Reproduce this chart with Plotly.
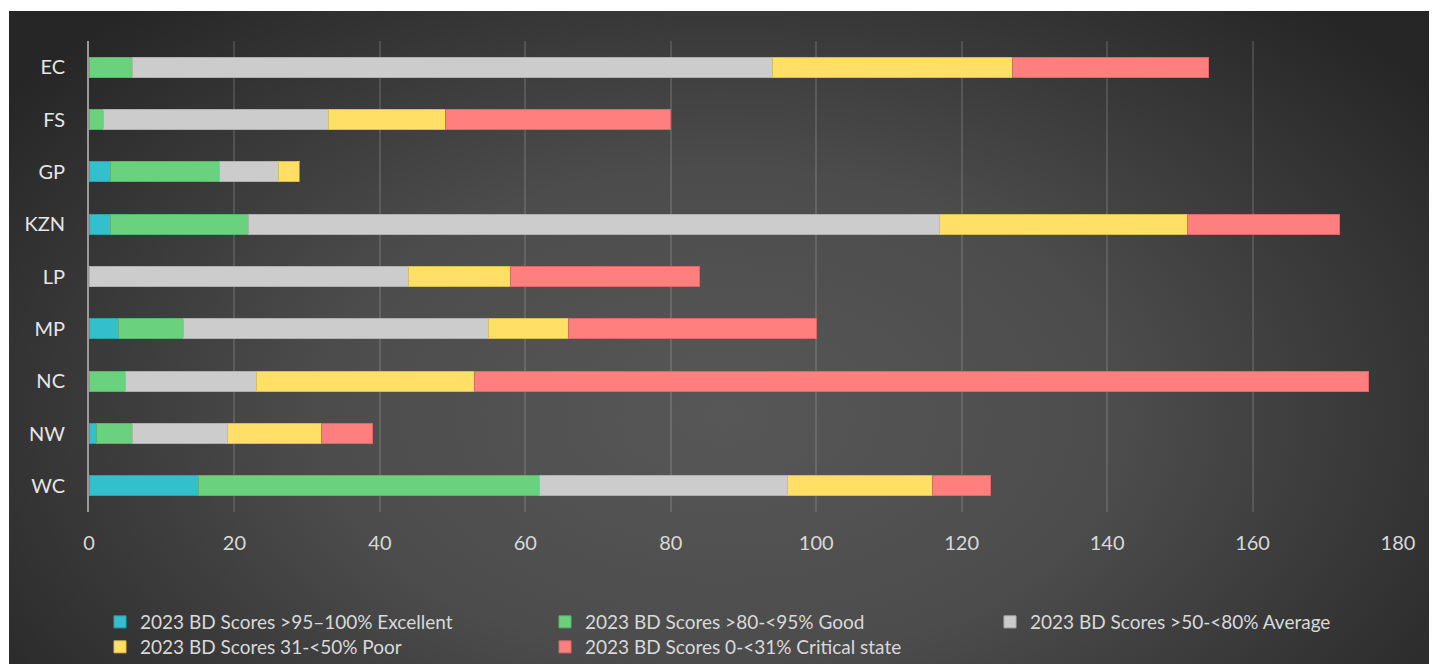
import base64
import plotly.graph_objects as go

categories = ["EC", "FS", "GP", "KZN", "LP", "MP", "NC", "NW", "WC"]
series_names = [
    "2023 BD Scores >95–100% Excellent",
    "2023 BD Scores >80-<95% Good",
    "2023 BD Scores >50-<80% Average",
    "2023 BD Scores 31-<50% Poor",
    "2023 BD Scores 0-<31% Critical state",
]
excellent = [0, 0, 3, 3, 0, 4, 0, 1, 15]
good = [6, 2, 15, 19, 0, 9, 5, 5, 47]
average = [88, 31, 8, 95, 44, 42, 18, 13, 34]
poor = [33, 16, 3, 34, 14, 11, 30, 13, 20]
critical = [27, 31, 0, 21, 26, 34, 123, 7, 8]
x_ticks = [0, 20, 40, 60, 80, 100, 120, 140, 160, 180]

colors = ["#33BFCC", "#6AD17F", "#CCCCCC", "#FFDF66", "#FF7F7F"]
edge_colors = ["#2AA3AE", "#5BB56D", "#B0B0B0", "#D9BD55", "#D96A6A"]
values = [excellent, good, average, poor, critical]
legend_ids = ["legend", "legend2", "legend3", "legend4", "legend5"]

# page body adds 8px margin; figure sized to fit the window
W, H = 1429, 656
ml, mr, mt, mb = 81, 39, 33, 152
pw, ph = W - ml - mr, H - mt - mb

svg = (
    '<svg xmlns="http://www.w3.org/2000/svg" width="1428" height="653" viewBox="0 0 1428 653" preserveAspectRatio="none">'
    '<defs><radialGradient id="g" cx="0.5" cy="0.62" r="0.62" gradientUnits="objectBoundingBox" '
    'gradientTransform="translate(0.5,0.62) scale(1,1.35) translate(-0.5,-0.62)">'
    '<stop offset="0" stop-color="#575757"/><stop offset="0.45" stop-color="#4c4c4c"/>'
    '<stop offset="1" stop-color="#262626"/></radialGradient></defs>'
    '<rect width="1428" height="653" fill="url(#g)"/></svg>'
)
src = "data:image/svg+xml;base64," + base64.b64encode(svg.encode()).decode()

fig = go.Figure()
for name, vals, c, ec, lg in zip(series_names, values, colors, edge_colors, legend_ids):
    fig.add_trace(go.Bar(
        y=categories, x=vals, name=name, orientation="h", legend=lg,
        marker=dict(color=c, line=dict(color=ec, width=1)),
    ))

fig.add_layout_image(dict(
    source=src, xref="paper", yref="paper",
    x=(1 - ml) / pw, y=1 + (mt - 3) / ph, sizex=1428 / pw, sizey=653 / ph,
    xanchor="left", yanchor="top", sizing="stretch", layer="below",
))

leg_font = dict(size=19, color="#D9D9D9")


def leg(x_px, y_px):
    return dict(
        orientation="v", x=(x_px - ml) / pw, xanchor="left",
        y=-(y_px - (H - mb)) / ph, yanchor="top", font=leg_font,
        itemclick=False, bgcolor="rgba(0,0,0,0)",
    )


fig.update_layout(
    width=W, height=H,
    margin=dict(l=ml, r=mr, t=mt, b=mb, autoexpand=False),
    paper_bgcolor="#FFFFFF",
    plot_bgcolor="rgba(0,0,0,0)",
    barmode="stack",
    bargap=0.62,
    font=dict(family="Lato, 'Open Sans', sans-serif", color="#D9D9D9"),
    xaxis=dict(
        range=[0, 180], tickvals=x_ticks, ticktext=[str(t) for t in x_ticks],
        showgrid=True, gridcolor="rgba(255,255,255,0.13)", gridwidth=1.5,
        zeroline=False, showline=False, ticks="",
        tickfont=dict(size=20, color="#D9D9D9"), ticklabelstandoff=17,
    ),
    yaxis=dict(
        autorange="reversed", showgrid=False, ticks="",
        showline=True, linecolor="#9A9A9A", linewidth=2,
        tickfont=dict(size=20, color="#E6E6E6"), ticklabelstandoff=18,
    ),
    legend=leg(92, 595),
    legend2=leg(537, 595),
    legend3=leg(982, 595),
    legend4=leg(92, 620),
    legend5=leg(537, 620),
    showlegend=True,
)

fig.write_html("out.html")
